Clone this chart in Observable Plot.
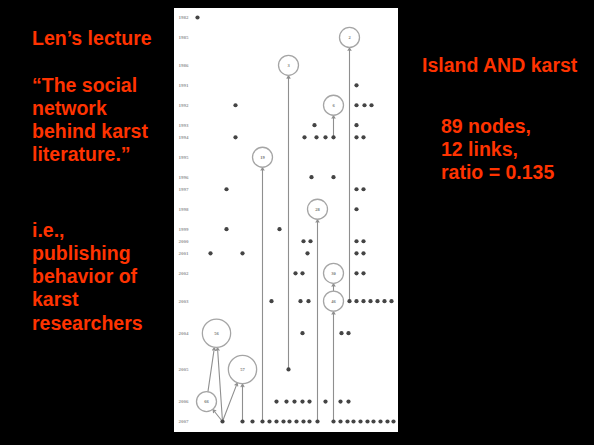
<!DOCTYPE html>
<html>
<head>
<meta charset="utf-8">
<script src="https://cdn.jsdelivr.net/npm/d3@7"></script>
<script src="https://cdn.jsdelivr.net/npm/@observablehq/plot@0.6"></script>
<style>
  html, body { margin: 0; padding: 0; background: #000; }
  body { width: 594px; height: 445px; position: relative; overflow: hidden;
         font-family: "Liberation Sans", Arial, sans-serif; font-weight: bold; color: #ff3300; }
  .t { position: absolute; font-size: 19.5px; line-height: 23.3px; white-space: nowrap; }
  #chart { position: absolute; left: 174px; top: 8px; width: 224px; height: 424px; background: #fff; }
  #chart svg { display: block; background: #fff; }
</style>
</head>
<body>
<div class="t" style="left:32px; top:26.6px;">Len’s lecture</div>
<div class="t" style="left:32px; top:73.6px;">“The social<br>network<br>behind karst<br>literature.”</div>
<div class="t" style="left:32px; top:218.6px;">i.e.,<br>publishing<br>behavior of<br>karst<br>researchers</div>
<div class="t" style="left:422px; top:53.6px;">Island AND karst</div>
<div class="t" style="left:441px; top:114.6px;">89 nodes,<br>12 links,<br>ratio = 0.135</div>
<div id="chart"></div>
<script>
// Year layers (tick labels)
const years = [1982,1985,1986,1991,1992,1993,1994,1995,1996,1997,1998,1999,2000,2001,2002,2003,2004,2005,2006,2007];

// Cited papers (open circles)
const circleLabel = ["2","3","6","19","28","30","46","56","57","66"];
const circleYear  = [1985,1986,1992,1995,1998,2002,2003,2004,2005,2006];
const circleX     = [175,114,159,88,143,159,159,42,68,32];

// Uncited papers (small dots), layout position within the year layer
const dotYear = [
  1982,
  1991,
  1992,1992,1992,1992,
  1993,1993,
  1994,1994,1994,1994,1994,1994,1994,
  1996,1996,
  1997,1997,1997,
  1998,
  1999,1999,
  2000,2000,2000,2000,
  2001,2001,2001,2001,2001,
  2002,2002,2002,2002,
  2003,2003,2003,2003,2003,2003,2003,2003,2003,2003,
  2004,2004,2004,
  2005,
  2006,2006,2006,2006,2006,2006,2006,2006,
  2007,2007,2007,2007,2007,2007,2007,2007,2007,2007,2007,2007,2007,2007,2007,2007,2007,2007,2007,2007,2007,2007
];
const dotX = [
  23,
  182,
  61,182,190,197,
  140,182,
  61,130,142,151,159,182,189,
  137,159,
  52,182,189,
  182,
  52,105,
  129,136,182,189,
  36,68,133,182,189,
  121,128,182,189,
  97,126,134,175,182,189,196,203,210,217,
  128,167,174,
  114,
  102,112,120,128,135,151,166,174,
  48,68,78,88,95,102,109,115,122,129,135,143,159,166,173,179,186,193,199,206,213,219
];

// Citation links (citing -> cited)
const linkSource = ["66","2007@48","2007@48","2007@48","2007@68","2007@88","2005@114","2007@143","2007@159","46","1994@159","2003@175"];
const linkTarget = ["56","56","66","57","57","19","3","28","46","30","6","2"];

// ---- build tables
const circles = circleLabel.map((label, i) => ({id: label, label, year: circleYear[i], x: circleX[i], kind: "c"}));
const dots = dotYear.map((year, i) => ({id: year + "@" + dotX[i], year, x: dotX[i], kind: "d"}));
const byId = new Map([...circles, ...dots].map(d => [d.id, d]));
circles.forEach(c => c.indeg = linkTarget.filter(t => t === c.id).length);

const rad = d3.scaleSqrt().domain([0, 1]).range([0, 10]);
const dotR = 2.1;
const nodeR = n => n.kind === "c" ? rad(n.indeg) : 2.2;

// layer positions from node sizes (dot-style ranking)
const half = years.map(y => d3.max([...circles, ...dots].filter(n => n.year === y), nodeR));
const pos = [0];
for (let i = 1; i < years.length; i++) pos.push(pos[i - 1] + half[i - 1] + half[i] + 7.5);
const yearPos = new Map(years.map((y, i) => [y, pos[i]]));
const rows = years.map((y, i) => ({year: y, pos: pos[i]}));
[...circles, ...dots].forEach(n => n.y = yearPos.get(n.year));

const links = linkSource.map((s, i) => {
  const a = byId.get(s), b = byId.get(linkTarget[i]);
  return {x1: a.x, y1: a.y, x2: b.x, y2: b.y, i0: a.kind === "c" ? nodeR(a) : 1, i1: nodeR(b) + 0.5};
});
const groups = d3.groups(links, d => d.i0 + "|" + d.i1);

const chart = Plot.plot({
  width: 224,
  height: 424,
  marginLeft: 0, marginRight: 0, marginTop: 0, marginBottom: 0,
  style: {background: "#fff", fontFamily: "'Liberation Serif', serif"},
  x: {domain: [0, 224], range: [0, 224], axis: null},
  y: {domain: [0, pos[pos.length - 1]], range: [9, 413], axis: null},
  r: {type: "sqrt", domain: [0, 1], range: [0, 10], clamp: false},
  marks: [
    ...groups.map(([k, g]) => Plot.arrow(g, {
      x1: "x1", y1: "y1", x2: "x2", y2: "y2",
      insetStart: g[0].i0, insetEnd: g[0].i1,
      stroke: "#8f8f8f", strokeWidth: 1.1, headLength: 4, bend: 0
    })),
    Plot.text(rows, {y: "pos", text: d => String(d.year), frameAnchor: "left", textAnchor: "start", dx: 4, fontSize: 5, fill: "#999"}),
    Plot.dot(dots, {x: "x", y: "y", r: dotR, fill: "#444", stroke: "none"}),
    Plot.dot(circles, {x: "x", y: "y", r: "indeg", fill: "#fff", stroke: "#a5a5a5", strokeWidth: 1.3}),
    Plot.text(circles, {x: "x", y: "y", text: "label", fontSize: 4.5, fill: "#777"})
  ]
});
document.getElementById("chart").appendChild(chart);
</script>
</body>
</html>
